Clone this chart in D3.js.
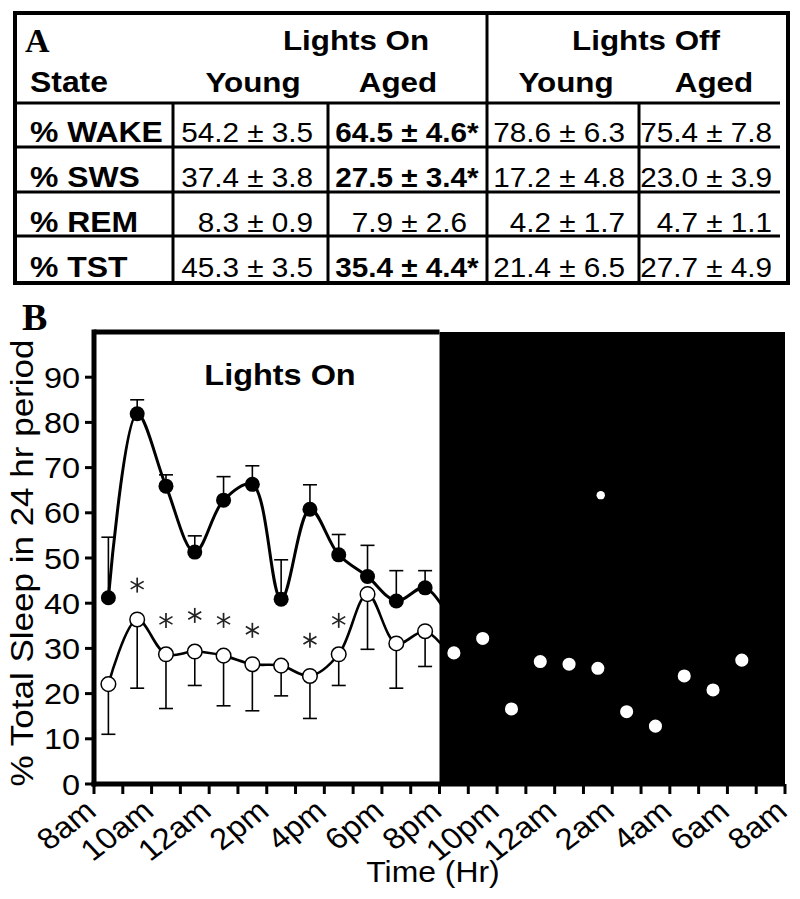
<!DOCTYPE html>
<html>
<head>
<meta charset="utf-8">
<script src="https://cdn.jsdelivr.net/npm/d3@7"></script>
<style>
  body { margin: 0; background: #fff; }
  svg { display: block; }
</style>
</head>
<body>
<svg id="fig" width="800" height="899"></svg>
<script>
// ---- panel A table data
var tableStates = ["% WAKE", "% SWS", "% REM", "% TST"];
var onYoungMean = [54.2, 37.4, 8.3, 45.3];
var onYoungSem = [3.5, 3.8, 0.9, 3.5];
var onAgedMean = [64.5, 27.5, 7.9, 35.4];
var onAgedSem = [4.6, 3.4, 2.6, 4.4];
var onAgedSig = [true, true, false, true];
var offYoungMean = [78.6, 17.2, 4.2, 21.4];
var offYoungSem = [6.3, 4.8, 1.7, 6.5];
var offAgedMean = [75.4, 23.0, 4.7, 27.7];
var offAgedSem = [7.8, 3.9, 1.1, 4.9];

// ---- panel B data (hours since midnight, day 1 -> 32 = 8am next day)
var tickHours = d3.range(8, 33, 1);
var labelHours = d3.range(8, 33, 2);
var tickLabels = ["8am", "10am", "12am", "2pm", "4pm", "6pm", "8pm", "10pm", "12am", "2am", "4am", "6am", "8am"];
var yTicks = [0, 10, 20, 30, 40, 50, 60, 70, 80, 90];

var agedHours = [8.5, 9.5, 10.5, 11.5, 12.5, 13.5, 14.5, 15.5, 16.5, 17.5, 18.5, 19.5, 20.5];
var agedMean = [41.2, 81.9, 65.9, 51.3, 62.8, 66.3, 40.9, 60.8, 50.7, 45.9, 40.5, 43.4, 35.0];
var agedSem = [13.4, 3.1, 2.5, 3.6, 5.2, 4.1, 8.7, 5.4, 4.5, 6.9, 6.7, 3.8, 0];

var youngHours = [8.5, 9.5, 10.5, 11.5, 12.5, 13.5, 14.5, 15.5, 16.5, 17.5, 18.5, 19.5,
                  20.5, 21.5, 22.5, 23.5, 24.5, 25.5, 26.5, 27.5, 28.5, 29.5, 30.5];
var youngMean = [22.1, 36.4, 28.7, 29.3, 28.4, 26.5, 26.2, 23.9, 28.7, 42.0, 31.1, 33.8,
                 29.0, 32.2, 16.6, 27.1, 26.5, 25.6, 16.0, 12.8, 23.9, 20.8, 27.4];
var youngSem = [11.1, 15.2, 12.0, 7.5, 11.1, 10.3, 6.7, 9.4, 6.9, 12.2, 9.9, 7.8,
                0, 0, 0, 0, 0, 0, 0, 0, 0, 0, 0];

var starHours = [9.5, 10.5, 11.5, 12.5, 13.5, 15.5, 16.5];
var starValues = [44.0, 36.2, 37.3, 36.2, 34.0, 31.8, 36.2];

var strayHours = [25.6];
var strayValues = [63.9];

var svg = d3.select('#fig');
var SANS = "Arial, 'Liberation Sans', Helvetica, sans-serif";
var SERIF = "'Times New Roman', 'Liberation Serif', serif";
var SX = 1.1; // the original figure is a bit wider than plain Arial

// horizontal text, stretched a little in x like the source image
function label(parent, x, y, str, size, weight, anchor) {
    var g = parent.append('g')
        .attr('transform', `translate(${x},${y}) scale(${SX},1)`);
    return g.append('text')
        .attr('text-anchor', anchor || 'start')
        .style('font-family', SANS)
        .style('font-size', size + 'px')
        .style('font-weight', weight || 'normal')
        .text(str);
}

// =============== panel A : table
var tbl = {left: 15, top: 13, right: 788, bottom: 283};
var rowLines = [103, 147, 192, 236, 283];
var colRight = [313, 467, 625, 772];
var colSep = [173, 328, 639];
var splitX = 487;

var tg = svg.append('g');
tg.append('rect')
    .attr('x', tbl.left).attr('y', tbl.top)
    .attr('width', tbl.right - tbl.left).attr('height', tbl.bottom - tbl.top)
    .style('fill', 'white').style('stroke', 'black').style('stroke-width', 4);
rowLines.slice(0, 4).forEach(y => {
    tg.append('line').attr('x1', tbl.left).attr('x2', tbl.right - 8)
        .attr('y1', y).attr('y2', y)
        .style('stroke', 'black').style('stroke-width', 3);
});
tg.append('line').attr('x1', splitX).attr('x2', splitX)
    .attr('y1', tbl.top).attr('y2', tbl.bottom)
    .style('stroke', 'black').style('stroke-width', 3);
colSep.forEach(x => {
    tg.append('line').attr('x1', x).attr('x2', x)
        .attr('y1', rowLines[0]).attr('y2', tbl.bottom)
        .style('stroke', 'black').style('stroke-width', 3);
});

tg.append('text')
    .attr('x', 25).attr('y', 52)
    .style('font-family', SERIF).style('font-weight', 'bold').style('font-size', '34px')
    .text('A');
label(tg, 356, 50, 'Lights On', 28.5, 'bold', 'middle');
label(tg, 646, 50, 'Lights Off', 28.5, 'bold', 'middle');
label(tg, 30, 92, 'State', 29, 'bold', 'start');
label(tg, 253, 92, 'Young', 28.5, 'bold', 'middle');
label(tg, 398, 92, 'Aged', 28.5, 'bold', 'middle');
label(tg, 566, 92, 'Young', 28.5, 'bold', 'middle');
label(tg, 714, 92, 'Aged', 28.5, 'bold', 'middle');

var rowBase = [142, 187, 232, 277];
var fmt = d3.format('.1f');
tableStates.forEach((s, i) => {
    var yb = rowBase[i];
    label(tg, 30, yb, s, 29, 'bold', 'start');
    label(tg, colRight[0], yb, fmt(onYoungMean[i]) + ' ± ' + fmt(onYoungSem[i]), 27, 'normal', 'end');
    label(tg, colRight[1], yb, fmt(onAgedMean[i]) + ' ± ' + fmt(onAgedSem[i]), 27,
          onAgedSig[i] ? 'bold' : 'normal', 'end');
    if (onAgedSig[i]) label(tg, colRight[1], yb, '*', 27, 'bold', 'start');
    label(tg, colRight[2], yb, fmt(offYoungMean[i]) + ' ± ' + fmt(offYoungSem[i]), 27, 'normal', 'end');
    label(tg, colRight[3], yb, fmt(offAgedMean[i]) + ' ± ' + fmt(offAgedSem[i]), 27, 'normal', 'end');
});

// =============== panel B : sleep time course
var xScale = d3.scaleLinear().domain([8, 32]).range([94, 785]);
var yScale = d3.scaleLinear().domain([0, 100]).range([784, 332]);

var cg = svg.append('g');
cg.append('text')
    .attr('x', 22).attr('y', 330)
    .style('font-family', SERIF).style('font-weight', 'bold').style('font-size', '38px')
    .text('B');

// lights on (white) / lights off (black) backgrounds
cg.append('rect')
    .attr('x', xScale(8)).attr('y', yScale(100))
    .attr('width', xScale(20) - xScale(8)).attr('height', yScale(0) - yScale(100))
    .style('fill', 'white');
cg.append('rect')
    .attr('x', xScale(20)).attr('y', yScale(100))
    .attr('width', xScale(32) - xScale(20)).attr('height', yScale(0) - yScale(100))
    .style('fill', 'black');

label(cg, 280, 385, 'Lights On', 29.5, 'bold', 'middle');

let curve = d3.line()
    .x(d => xScale(d[0]))
    .y(d => yScale(d[1]))
    .curve(d3.curveCatmullRom);

var youngPts = youngHours.map((h, i) => [h, youngMean[i], youngSem[i]]);
var agedPts = agedHours.map((h, i) => [h, agedMean[i], agedSem[i]]);

// young: error bars downward
youngPts.filter(d => d[2] > 0).forEach(d => {
    var x = xScale(d[0]), y0 = yScale(d[1]), y1 = yScale(d[1] - d[2]);
    cg.append('line').attr('x1', x).attr('x2', x).attr('y1', y0).attr('y2', y1)
        .style('stroke', 'black').style('stroke-width', 1.6);
    cg.append('line').attr('x1', x - 7).attr('x2', x + 7).attr('y1', y1).attr('y2', y1)
        .style('stroke', 'black').style('stroke-width', 1.6);
});
// aged: error bars upward
agedPts.filter(d => d[2] > 0).forEach(d => {
    var x = xScale(d[0]), y0 = yScale(d[1]), y1 = yScale(d[1] + d[2]);
    cg.append('line').attr('x1', x).attr('x2', x).attr('y1', y0).attr('y2', y1)
        .style('stroke', 'black').style('stroke-width', 1.6);
    cg.append('line').attr('x1', x - 7).attr('x2', x + 7).attr('y1', y1).attr('y2', y1)
        .style('stroke', 'black').style('stroke-width', 1.6);
});

cg.append('path').datum(youngPts)
    .attr('d', curve)
    .style('fill', 'none').style('stroke', 'black').style('stroke-width', 2.6);
cg.append('path').datum(agedPts)
    .attr('d', curve)
    .style('fill', 'none').style('stroke', 'black').style('stroke-width', 3);

cg.selectAll('circle.aged').data(agedPts).enter().append('circle')
    .attr('class', 'aged')
    .attr('cx', d => xScale(d[0])).attr('cy', d => yScale(d[1]))
    .attr('r', 7.5)
    .style('fill', 'black');
cg.selectAll('circle.young').data(youngPts).enter().append('circle')
    .attr('class', 'young')
    .attr('cx', d => xScale(d[0])).attr('cy', d => yScale(d[1]))
    .attr('r', 7.3)
    .style('fill', 'white').style('stroke', 'black').style('stroke-width', 1.5);
cg.selectAll('circle.stray').data(strayHours).enter().append('circle')
    .attr('class', 'stray')
    .attr('cx', d => xScale(d)).attr('cy', (d, i) => yScale(strayValues[i]))
    .attr('r', 4.2)
    .style('fill', 'white');

// significance asterisks
starHours.forEach((h, i) => {
    var s = cg.append('g')
        .attr('transform', `translate(${xScale(h)},${yScale(starValues[i])})`);
    [90, 30, 150].forEach(a => {
        var r = 7.5, rad = a * Math.PI / 180;
        s.append('line')
            .attr('x1', -r * Math.cos(rad)).attr('y1', -r * Math.sin(rad))
            .attr('x2', r * Math.cos(rad)).attr('y2', r * Math.sin(rad))
            .style('stroke', '#222').style('stroke-width', 1.7);
    });
});

// frame: left, top (lights-on part) and bottom axis
cg.append('line').attr('x1', xScale(8)).attr('x2', xScale(8))
    .attr('y1', yScale(100) - 2.5).attr('y2', yScale(0) + 2.5)
    .style('stroke', 'black').style('stroke-width', 5);
cg.append('line').attr('x1', xScale(8)).attr('x2', xScale(20))
    .attr('y1', yScale(100)).attr('y2', yScale(100))
    .style('stroke', 'black').style('stroke-width', 5);
cg.append('line').attr('x1', xScale(8) - 2.5).attr('x2', xScale(32))
    .attr('y1', yScale(0)).attr('y2', yScale(0))
    .style('stroke', 'black').style('stroke-width', 5);

// y axis ticks + labels
yTicks.forEach(v => {
    cg.append('line').attr('x1', xScale(8) - 9).attr('x2', xScale(8))
        .attr('y1', yScale(v)).attr('y2', yScale(v))
        .style('stroke', 'black').style('stroke-width', 3);
    label(cg, 80, yScale(v) + 10.5, String(v), 29.5, 'normal', 'end');
});

// x axis ticks + rotated labels
tickHours.forEach(h => {
    cg.append('line').attr('x1', xScale(h)).attr('x2', xScale(h))
        .attr('y1', yScale(0)).attr('y2', yScale(0) + 10)
        .style('stroke', 'black').style('stroke-width', 3);
});
labelHours.forEach((h, i) => {
    cg.append('text')
        .attr('transform', `translate(${xScale(h) + 4},${yScale(0) + 30}) scale(${SX},1) rotate(-40)`)
        .attr('text-anchor', 'end')
        .style('font-family', SANS).style('font-size', '30px')
        .text(tickLabels[i]);
});

label(cg, 433, 882, 'Time (Hr)', 29, 'normal', 'middle');

cg.append('text')
    .attr('transform', `translate(33,563) scale(${SX},1) rotate(-90)`)
    .attr('text-anchor', 'middle')
    .attr('textLength', 447).attr('lengthAdjust', 'spacingAndGlyphs')
    .style('font-family', SANS).style('font-size', '29px')
    .text('% Total Sleep in 24 hr period');
</script>
</body>
</html>
